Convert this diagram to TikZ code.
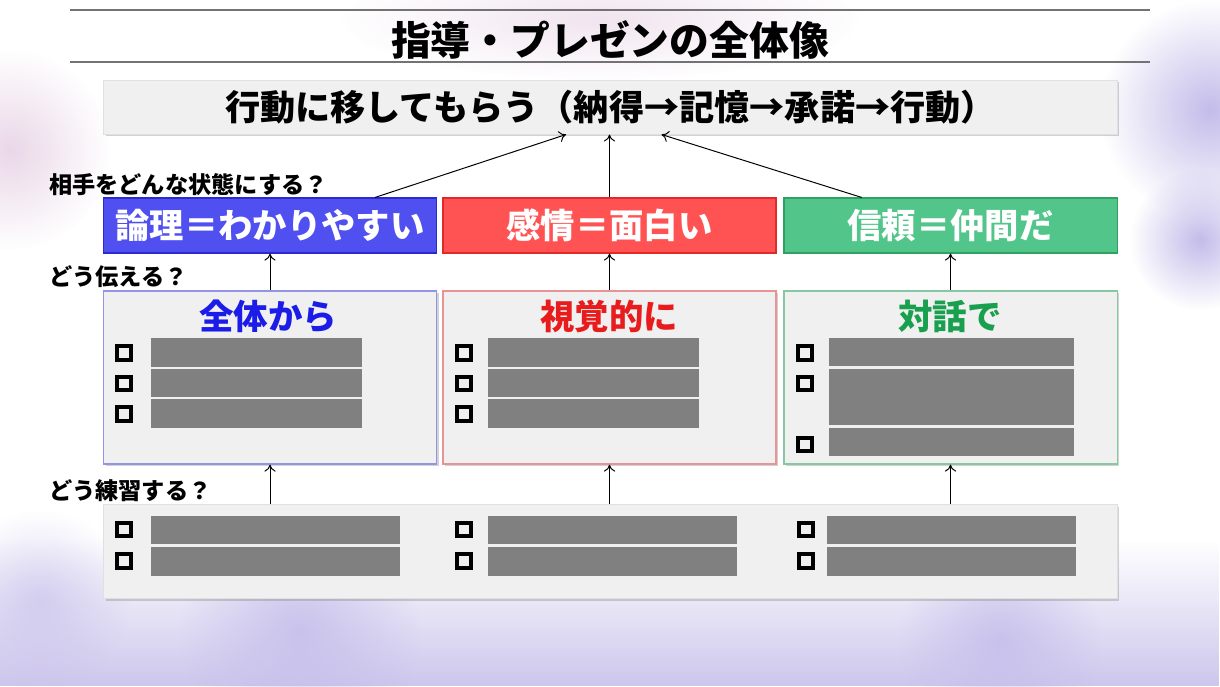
\documentclass[tikz,border=0pt]{standalone}
\usepackage{fontspec}
\setmainfont{Noto Sans CJK JP}
\usetikzlibrary{positioning,arrows.meta,shadows,fadings}

\definecolor{haze}{HTML}{C4BCEA}
\definecolor{panel}{HTML}{F0F0F0}
\definecolor{logicfill}{HTML}{5050F0}
\definecolor{logicline}{HTML}{2A2AD0}
\definecolor{emotionfill}{HTML}{FF5353}
\definecolor{emotionline}{HTML}{E02A2A}
\definecolor{trustfill}{HTML}{52C68A}
\definecolor{trustline}{HTML}{2FA262}
\definecolor{wholeline}{HTML}{9494E6}
\definecolor{visualline}{HTML}{E89494}
\definecolor{dialogline}{HTML}{86C8A4}
\definecolor{wholetext}{HTML}{1C1CE8}
\definecolor{visualtext}{HTML}{E81C1C}
\definecolor{dialogtext}{HTML}{18A04E}
\tikzfading[name=softspot, inner color=transparent!0, outer color=transparent!100]

\begin{document}
\begin{tikzpicture}[->,
    >={To[length=5pt, width=8pt]},
    x=0.025cm, y=-0.025cm,
    line width=0.7pt,
    softshadow/.style={drop shadow={shadow xshift=1.6pt, shadow yshift=-1.6pt, opacity=0.35}},
    goalbox/.style={draw=black!12, fill=panel, softshadow,
        minimum width=25.325cm, minimum height=1.35cm,
        font=\bfseries\fontsize{25}{27}\selectfont},
    statebox/.style={line width=0.8pt, text=white,
        minimum width=8.325cm, minimum height=1.375cm,
        font=\bfseries\fontsize{24.4}{26}\selectfont},
    waybox/.style={line width=0.8pt, fill=panel, softshadow,
        minimum width=8.325cm, minimum height=4.325cm},
    waytitle/.style={font=\bfseries\fontsize{24.5}{26}\selectfont},
    question/.style={anchor=west, font=\bfseries\fontsize{16.5}{18}\selectfont},
    chk/.style={draw=black, line width=3pt, minimum size=0.34cm, inner sep=0pt},
    fillbar/.style={fill=black!50, inner sep=0pt, minimum height=0.71cm}]

    \useasboundingbox (0,0) rectangle (1220,686);
    % background
    \begin{scope}
        \clip (0,0) rectangle (1220,686);
        \fill[white] (0,0) rectangle (1220,686);
        \fill[haze!85, path fading=north] (0,540) rectangle (1220,686);
        \fill[haze, path fading=softspot] (1210,110) circle (110);
        \fill[haze, path fading=softspot] (1200,240) circle (70);
        \fill[haze, path fading=softspot, opacity=0.8] (1000,640) circle (100);
        \fill[haze, path fading=softspot, opacity=0.8] (300,630) circle (120);
        \fill[haze, path fading=softspot, opacity=0.6] (40,600) circle (90);
        \fill[haze!60!pink, path fading=softspot, opacity=0.6] (10,150) circle (100);
        \fill[haze!60!pink, path fading=softspot, opacity=0.4] (600,20) ellipse (260 and 60);
    \end{scope}

    % title
    \draw[-, black!55, line width=0.8pt] (70,10) -- (1150,10);
    \draw[-, black!55, line width=0.8pt] (70,62) -- (1150,62);
    \node[font=\bfseries\fontsize{28.3}{30}\selectfont] (title) at (610,40) {指導・プレゼンの全体像};

    \node[goalbox] (goal) at (610.5,107) {行動に移してもらう（納得→記憶→承諾→行動）};

    \node[question] (qstate) at (44,185) {相手をどんな状態にする？};
    \node[statebox, fill=logicfill, draw=logicline] (logic) at (270,225.5) {論理＝わかりやすい};
    \node[statebox, fill=emotionfill, draw=emotionline] (emotion) at (609.5,225.5) {感情＝面白い};
    \node[statebox, fill=trustfill, draw=trustline] (trust) at (950.5,225.5) {信頼＝仲間だ};

    \node[question] (qhow) at (44,277) {どう伝える？};
    \node[waybox, draw=wholeline] (whole) at (270,377.5) {};
    \node[waybox, draw=visualline] (visual) at (609.5,377.5) {};
    \node[waybox, draw=dialogline] (dialog) at (950.5,377.5) {};
    \node[waytitle, text=wholetext] (wholetitle) at (268,316) {全体から};
    \node[waytitle, text=visualtext] (visualtitle) at (609,316) {視覚的に};
    \node[waytitle, text=dialogtext] (dialogtitle) at (950,316) {対話で};

    \foreach \x/\bx [count=\i] in {124/256.7, 464/593.5}
        \foreach \y [count=\j] in {353,383.5,414}
        {
            \node[chk] (chk\i\j) at (\x,\y) {};
            \node[fillbar, minimum width=5.26cm] (bar\i\j) at (\bx,\y-0.5) {};
        }
    \node[chk] (chk31) at (805,353) {};
    \node[chk] (chk32) at (805,383.5) {};
    \node[chk] (chk33) at (805,444.5) {};
    \node[fillbar, minimum width=6.12cm] (bar31) at (951.7,352) {};
    \node[fillbar, minimum width=6.12cm, minimum height=1.41cm] (bar32) at (951.7,396.8) {};
    \node[fillbar, minimum width=6.12cm] (bar33) at (951.7,441.7) {};

    \node[question] (qpractice) at (44,491) {どう練習する？};
    \node[goalbox, minimum height=2.35cm] (practice) at (610.5,551.5) {};
    \foreach \x/\bx [count=\i] in {124/275.7, 464/612.5, 806/951.5}
        \foreach \y [count=\j] in {529.5,561}
        {
            \node[chk] (pchk\i\j) at (\x,\y) {};
            \node[fillbar, minimum width=6.21cm] (pbar\i\j) at (\bx,\y+0.5) {};
        }

    \path ([xshift=2.625cm]logic.north) edge ([xshift=-1.11cm]goal.south)
          (emotion.north) edge (emotion.north |- goal.south)
          ([xshift=-2.22cm]trust.north) edge ([xshift=1.275cm]goal.south)
          (whole.north) edge (logic.south)
          (visual.north) edge (emotion.south)
          (dialog.north) edge (trust.south)
          (practice.north -| whole.south) edge (whole.south)
          (practice.north -| visual.south) edge (visual.south)
          (practice.north -| dialog.south) edge (dialog.south);
\end{tikzpicture}
\end{document}
